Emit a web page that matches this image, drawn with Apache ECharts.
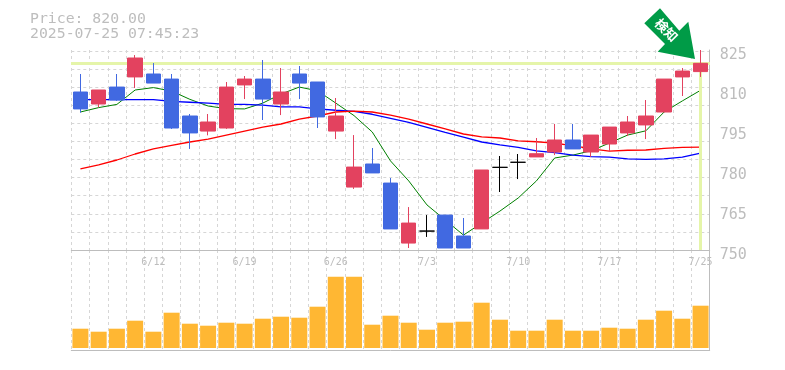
<!DOCTYPE html>
<html>
<head>
<meta charset="utf-8">
<script src="https://cdn.jsdelivr.net/npm/echarts@6/dist/echarts.min.js"></script>
<style>
html, body { margin: 0; padding: 0; background: #fff; }
#main { width: 785px; height: 370px; }
</style>
</head>
<body>
<div id="main"></div>
<script>
var dates = ['6/6','6/9','6/10','6/11','6/12','6/13','6/16','6/17','6/18','6/19','6/20','6/23','6/24','6/25','6/26','6/27','6/30','7/1','7/2','7/3','7/4','7/7','7/8','7/9','7/10','7/11','7/14','7/15','7/16','7/17','7/18','7/22','7/23','7/24','7/25'];
var opens = [809.25,804.75,811.1,814.9,816,814.1,800.25,794.6,795.75,811.9,814.1,804.75,816,813,794.6,773.6,782.25,775.1,752.6,757.1,763.1,755.25,757.9,781,782.9,784.9,786.75,791.25,786.75,789.75,793.9,796.9,801.75,814.9,816.9];
var closes = [802.9,810,806.25,822,812.6,795.75,793.9,798,811.1,814.1,806.6,809.25,812.6,799.9,800.25,781.1,778.9,757.9,760.1,757.1,750.75,750.75,780,781,782.9,786.1,791.25,787.9,793.1,796.1,798,800.25,814.1,817.1,820];
var lows = [801.5,803.5,805.9,810.75,812.6,795.4,787.9,793,795.4,806.6,798.75,800.6,806.6,795.75,791.6,772.9,778.9,757.9,750.75,754.9,750.75,750.75,757.9,771.75,776.6,784.9,785.6,787.9,784.9,786.75,792.75,791.6,801.75,807.75,814.9];
var highs = [816,810,816,823.1,820.1,816,801,801,813,815.25,821.25,818.25,819,813,807,793.1,788.25,777,766.1,763.1,763.1,762,780,785.25,786,792,797.25,797.25,793.1,796.1,800.25,806.25,814.1,818.25,825];
var maShort = [801.75,803.4,804.6,810,810.9,809.6,806.5,804,803,802.9,805.1,808.5,811.1,809.7,805.1,800.4,794.25,783.4,775.9,766.9,761.25,755.6,760.1,764.6,769.5,775.9,784.5,785.6,787.2,790.1,793.1,794.7,801.75,805.9,809.9];
var maMid = [806.4,806.4,806.4,806.4,806.4,805.7,805.4,805.1,804.6,804.6,804.3,803.7,803.7,802.9,802.4,802,800.9,799.4,797.9,796,794.1,792.3,790.5,789.4,788.5,787.2,786.5,785.6,785,784.8,784.2,784,784.2,784.8,786.3];
var maLong = [780.4,781.9,783.75,786,787.9,789.2,790.5,791.6,793.1,794.6,796.1,797.25,799.1,800.25,801.75,802.1,801.75,800.6,799.1,797.25,795.4,793.5,792.4,792,790.9,790.6,790.1,789.1,787.9,787.1,787.4,787.5,788.1,788.5,788.6];
var volumes = [19.3,16.3,19.3,27.3,16.3,35.3,24.3,22.3,25.3,24.3,29.3,31.3,30.3,41.3,71.3,71.3,23.3,32.3,25.3,18.3,25.3,26.3,45.3,28.3,17.3,17.3,28.3,17.3,17.3,20.3,19.3,28.3,37.3,29.3,42.3];
var lastPrice = 820;
var priceText = 'Price: 820.00';
var timeText = '2025-07-25 07:45:23';
var arrowText = '検知';

var monoFont = '"DejaVu Sans Mono", monospace';
var gray = '#bdbdbd';
var gridGray = '#d6d6d6';
var upColor = '#e3425f';
var downColor = '#4169e1';

var myChart = echarts.init(document.getElementById('main'));

// 시가=종가 is drawn black
var candleData = dates.map(function (d, i) {
  var item = { value: [opens[i], closes[i], lows[i], highs[i]] };
  if (opens[i] === closes[i]) {
    item.itemStyle = { color: '#000', color0: '#000', borderColor: '#000', borderColor0: '#000' };
  }
  return item;
});

function maSeries(name, data, color, width, z) {
  return {
    name: name, type: 'line', data: data, xAxisIndex: 0, yAxisIndex: 0, z: z,
    symbol: 'none', silent: true, animation: false,
    lineStyle: { color: color, width: width }
  };
}

var option = {
  animation: false,
  backgroundColor: '#fff',
  title: {
    left: 30, top: 12, padding: 0,
    text: priceText + '\n' + timeText,
    textStyle: { fontFamily: monoFont, fontSize: 14.8, fontWeight: 'normal', color: gray, lineHeight: 15 }
  },
  grid: [
    { left: 71.3, width: 638.4, top: 50, height: 200 },
    { left: 71.3, width: 638.4, top: 250, height: 100 }
  ],
  xAxis: [
    {
      type: 'category', gridIndex: 0, data: dates, position: 'bottom',
      axisLine: { show: true, onZero: false, lineStyle: { color: gray } },
      axisTick: { show: false },
      axisLabel: {
        margin: 7, color: gray, fontFamily: monoFont, fontSize: 10,
        interval: function (i) { return (dates.length - 1 - i) % 5 === 0; }
      },
      splitLine: { show: true, interval: 0, lineStyle: { color: gridGray, type: [3, 3] } }
    },
    {
      type: 'category', gridIndex: 1, data: dates,
      axisLine: { show: true, onZero: false, lineStyle: { color: gray } },
      axisTick: { show: false },
      axisLabel: { show: false },
      splitLine: { show: true, interval: 0, lineStyle: { color: gridGray, type: [3, 3] } }
    }
  ],
  yAxis: [
    {
      type: 'value', gridIndex: 0, position: 'right', min: 750, max: 825, interval: 15,
      axisLine: { show: true, lineStyle: { color: gray } },
      axisTick: { show: false },
      axisLabel: {
        margin: 10, color: gray, fontFamily: monoFont, fontSize: 15,
        verticalAlign: 'top', lineHeight: 10
      },
      splitLine: { show: false }
    },
    {
      // 가로 점선은 가격 눈금과 간격이 달라서 따로 둔다
      type: 'value', gridIndex: 0, position: 'left', min: 0, max: 11.05, interval: 1,
      axisLine: { show: false }, axisTick: { show: false }, axisLabel: { show: false },
      splitLine: { show: true, showMinLine: false, showMaxLine: false, lineStyle: { color: gridGray, type: [3, 3] } }
    },
    {
      type: 'value', gridIndex: 1, position: 'right', min: -2, max: 98,
      axisLine: { show: true, lineStyle: { color: gray } },
      axisTick: { show: false }, axisLabel: { show: false }, splitLine: { show: false }
    }
  ],
  graphic: [
    {
      type: 'polygon', z: 50,
      shape: { points: [[660, 8.3], [679.3, 30.7], [688.3, 21.7], [695, 59], [657.7, 51.7], [665, 44], [644.3, 23.3]] },
      style: { fill: '#009b47' }
    },
    {
      type: 'text', z: 51, x: 666.5, y: 30, rotation: -Math.PI / 4,
      style: {
        text: arrowText, fill: '#fff', align: 'center', verticalAlign: 'middle',
        font: 'bold 13px "Noto Sans CJK JP"'
      }
    }
  ],
  series: [
    {
      // 현재가 가이드 라인
      name: 'last', type: 'line', data: [], xAxisIndex: 0, yAxisIndex: 0, z: 1, silent: true,
      markLine: {
        silent: true, symbol: 'none', label: { show: false }, animation: false,
        lineStyle: { color: '#e5f5a9', width: 3, type: 'solid' },
        data: [
          [{ coord: [dates[0], lastPrice], x: 71 }, { coord: [dates[dates.length - 1], lastPrice], x: 710 }],
          [{ coord: [dates[dates.length - 1], lastPrice] }, { coord: [dates[dates.length - 1], 750] }]
        ]
      }
    },
    maSeries('short', maShort, '#008000', 1, 2),
    maSeries('mid', maMid, '#0000ff', 1.3, 3),
    maSeries('long', maLong, '#ff0000', 1.3, 4),
    {
      name: 'candle', type: 'candlestick', data: candleData, xAxisIndex: 0, yAxisIndex: 0, z: 5,
      barWidth: 15, clip: false,
      itemStyle: { color: upColor, color0: downColor, borderColor: upColor, borderColor0: downColor, borderWidth: 1 }
    },
    {
      name: 'volume', type: 'bar', data: volumes, xAxisIndex: 1, yAxisIndex: 2, z: 5,
      barWidth: 16, itemStyle: { color: '#ffb733' }
    }
  ]
};

myChart.setOption(option);
</script>
</body>
</html>
